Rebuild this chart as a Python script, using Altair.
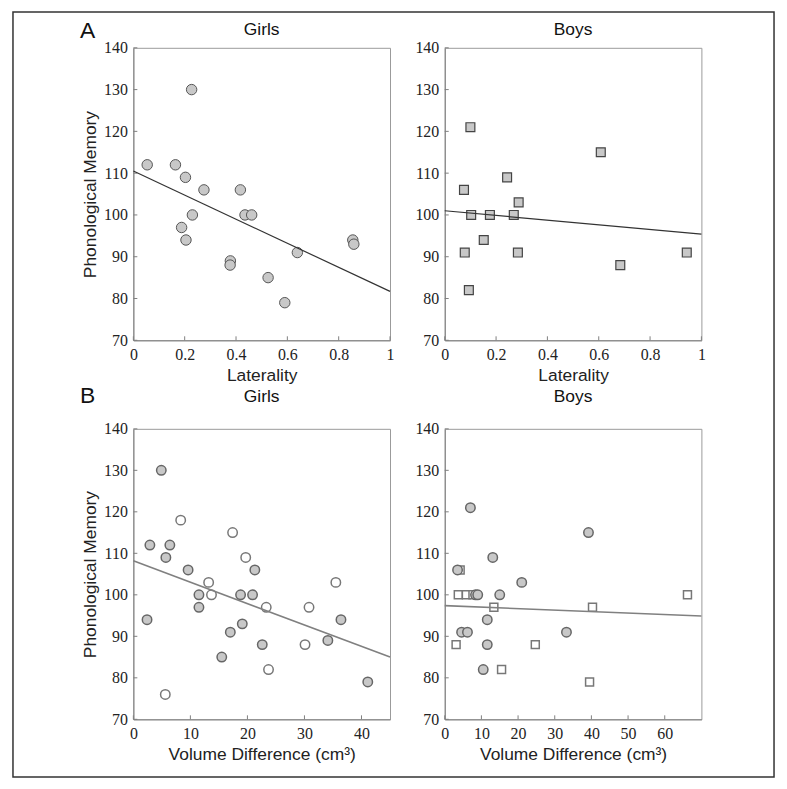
import altair as alt
import pandas as pd

# ---------------- data ----------------
# Panel A, girls (laterality vs phonological memory)
a_girls_x = [0.054, 0.164, 0.203, 0.227, 0.275, 0.230, 0.188, 0.205, 0.417,
             0.435, 0.461, 0.378, 0.377, 0.525, 0.639, 0.855, 0.859, 0.590]
a_girls_y = [112, 112, 109, 130, 106, 100, 97, 94, 106,
             100, 100, 89, 88, 85, 91, 94, 93, 79]
a_girls_fit_x = [0, 1]
a_girls_fit_y = [110.5, 81.7]

# Panel A, boys
a_boys_x = [0.100, 0.608, 0.243, 0.075, 0.288, 0.103, 0.176, 0.269, 0.152,
            0.078, 0.285, 0.943, 0.684, 0.094]
a_boys_y = [121, 115, 109, 106, 103, 100, 100, 100, 94, 91, 91, 91, 88, 82]
a_boys_fit_x = [0, 1]
a_boys_fit_y = [101.0, 95.4]

# Panel B, girls: filled circles and open circles
b_girls_fill_x = [4.9, 2.9, 6.4, 5.7, 9.6, 11.5, 11.5, 2.4, 18.8, 20.9, 21.3,
                  19.1, 17.0, 22.6, 15.5, 34.1, 36.4, 41.1]
b_girls_fill_y = [130, 112, 112, 109, 106, 100, 97, 94, 100, 100, 106,
                  93, 91, 88, 85, 89, 94, 79]
b_girls_open_x = [8.3, 17.4, 19.7, 13.2, 13.7, 23.3, 30.8, 35.5, 30.1, 23.7, 5.6]
b_girls_open_y = [118, 115, 109, 103, 100, 97, 97, 103, 88, 82, 76]
b_girls_fit_x = [0, 45]
b_girls_fit_y = [108.2, 85.0]

# Panel B, boys: filled circles and open squares
b_boys_fill_x = [7.0, 39.2, 13.1, 3.5, 21.0, 8.4, 9.0, 15.0, 11.6, 4.6, 6.2,
                 33.2, 11.6, 10.5]
b_boys_fill_y = [121, 115, 109, 106, 103, 100, 100, 100, 94, 91, 91, 91, 88, 82]
b_boys_open_x = [4.2, 3.7, 5.9, 7.7, 13.4, 40.3, 66.2, 3.1, 24.7, 15.5, 39.5]
b_boys_open_y = [106, 100, 100, 100, 97, 97, 100, 88, 88, 82, 79]
b_boys_fit_x = [0, 70]
b_boys_fit_y = [97.4, 94.9]

y_ticks = [70, 80, 90, 100, 110, 120, 130, 140]
lat_ticks = [0, 0.2, 0.4, 0.6, 0.8, 1]
vol_girls_ticks = [0, 10, 20, 30, 40]
vol_boys_ticks = [0, 10, 20, 30, 40, 50, 60]

panel_titles = ["Girls", "Boys"]
panel_letters = ["A", "B"]

# ---------------- styling ----------------
SANS = "Liberation Sans, Arial, Helvetica, sans-serif"
SERIF = "Liberation Serif, DejaVu Serif, serif"
W = 258
H_A = 294
H_B = 292
AXIS_COLOR = "#808080"
GRAY = "#c8c8c8"


def df(xs, ys):
    return pd.DataFrame({"x": xs, "y": ys})


def text_layer(txt, x, y, size):
    return alt.Chart(pd.DataFrame({"t": [txt]})).mark_text(
        font=SANS, fontSize=size, align="center", baseline="alphabetic", color="#111"
    ).encode(text="t:N", x=alt.value(x), y=alt.value(y))


def panel(title, title_y, xdom, xticks, xfmt, xtitle, ytitle, height,
          layers_spec, fit, extra=None):
    X = alt.X("x:Q", scale=alt.Scale(domain=xdom, nice=False, zero=False),
              axis=alt.Axis(values=xticks, format=xfmt, title=xtitle, labelFlush=False,
                            labelOverlap=False, labelFont=SERIF, labelFontSize=16))
    if ytitle:
        yaxis = alt.Axis(values=y_ticks, title=ytitle, labelOverlap=False,
                         labelFont=SERIF, labelFontSize=16)
    else:
        yaxis = alt.Axis(values=y_ticks, title=None, labelOverlap=False,
                         labelFont=SERIF, labelFontSize=16)
    Y = alt.Y("y:Q", scale=alt.Scale(domain=[70, 140], nice=False, zero=False),
              axis=yaxis)

    layers = []
    # inward tick marks
    layers.append(
        alt.Chart(pd.DataFrame({"x": xticks})).mark_rule(color=AXIS_COLOR, strokeWidth=1)
        .encode(x=X, y=alt.value(height), y2=alt.value(height - 4))
    )
    layers.append(
        alt.Chart(pd.DataFrame({"y": y_ticks})).mark_rule(color=AXIS_COLOR, strokeWidth=1)
        .encode(y=Y, x=alt.value(0), x2=alt.value(4))
    )
    for (xs, ys, shape, size, fill, stroke, sw) in layers_spec:
        layers.append(
            alt.Chart(df(xs, ys)).mark_point(
                shape=shape, size=size, filled=False, fill=fill, stroke=stroke,
                strokeWidth=sw, opacity=1, fillOpacity=1
            ).encode(x=X, y=Y)
        )
    fx, fy, fcolor, fwidth = fit
    layers.append(
        alt.Chart(df(fx, fy)).mark_line(color=fcolor, strokeWidth=fwidth).encode(x=X, y=Y)
    )
    layers.append(text_layer(title, W / 2, title_y, 17.5))
    if extra:
        layers.extend(extra)
    return alt.layer(*layers).properties(width=W, height=height)


# outer frame of the figure (decoration)
frame = alt.Chart(pd.DataFrame({"t": [0]})).mark_rect(
    fillOpacity=0, stroke="#333", strokeWidth=1.5
).encode(x=alt.value(-121), x2=alt.value(644), y=alt.value(-36), y2=alt.value(733))

pA1 = panel(panel_titles[0], -13, [0, 1], lat_ticks, "~g", "Laterality",
            "Phonological Memory", H_A,
            [(a_girls_x, a_girls_y, "circle", 110, GRAY, "#555", 1)],
            (a_girls_fit_x, a_girls_fit_y, "#333", 1.2),
            extra=[text_layer(panel_letters[0], -46, -10, 23), frame])
pA2 = panel(panel_titles[1], -13, [0, 1], lat_ticks, "~g", "Laterality", None, H_A,
            [(a_boys_x, a_boys_y, "square", 80, GRAY, "#444", 1.2)],
            (a_boys_fit_x, a_boys_fit_y, "#333", 1.2))
pB1 = panel(panel_titles[0], -27, [0, 45], vol_girls_ticks, "d", "Volume Difference (cm³)",
            "Phonological Memory", H_B,
            [(b_girls_open_x, b_girls_open_y, "circle", 90, "#ffffff", "#777", 1.5),
             (b_girls_fill_x, b_girls_fill_y, "circle", 90, GRAY, "#666", 1.5)],
            (b_girls_fit_x, b_girls_fit_y, "#808080", 1.6),
            extra=[text_layer(panel_letters[1], -46, -26, 23)])
pB2 = panel(panel_titles[1], -27, [0, 70], vol_boys_ticks, "d", "Volume Difference (cm³)",
            None, H_B,
            [(b_boys_open_x, b_boys_open_y, "square", 64, "#ffffff", "#777", 1.5),
             (b_boys_fill_x, b_boys_fill_y, "circle", 90, GRAY, "#666", 1.5)],
            (b_boys_fit_x, b_boys_fit_y, "#808080", 1.6))

chart = alt.ConcatChart(
    concat=[pA1, pA2, pB1, pB2],
    columns=2,
    bounds="flush",
    spacing=alt.RowColnumber(row=89, column=55),
    padding={"left": 3, "top": 0, "right": 3, "bottom": 3},
    background="white",
).configure_view(
    stroke="#9a9a9a", strokeWidth=1
).configure_axis(
    domainColor=AXIS_COLOR, domainWidth=1, ticks=False, grid=False,
    labelFont=SERIF, labelFontSize=16, labelColor="#222", labelPadding=6,
    titleFont=SANS, titleFontSize=17.5, titleFontWeight="normal", titleColor="#222",
    titlePadding=4,
)

chart.save("out.html", embed_options={"renderer": "svg", "actions": False})
